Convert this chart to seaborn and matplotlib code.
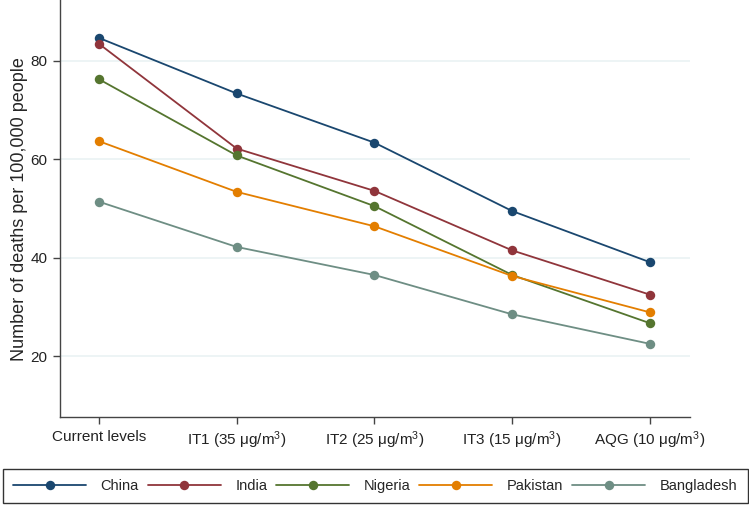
import numpy as np
import pandas as pd
import matplotlib
matplotlib.use("Agg")
import matplotlib.pyplot as plt
import seaborn as sns

# scenario labels on the x axis
scenarios = ["Current levels", "IT1 (35 μg/m$^3$)", "IT2 (25 μg/m$^3$)",
             "IT3 (15 μg/m$^3$)", "AQG (10 μg/m$^3$)"]
countries = ["China", "India", "Nigeria", "Pakistan", "Bangladesh"]

# deaths per 100,000 people
china = [84.7, 73.4, 63.4, 49.5, 39.1]
india = [83.5, 62.2, 53.6, 41.5, 32.5]
nigeria = [76.3, 60.8, 50.5, 36.5, 26.7]
pakistan = [63.7, 53.4, 46.4, 36.3, 28.9]
bangladesh = [51.4, 42.2, 36.5, 28.5, 22.5]

colors = ["#1a476f", "#90353b", "#55752f", "#e37e00", "#6e8e84"]

sns.set_style("white")
plt.rcParams["font.family"] = ["Liberation Sans", "DejaVu Sans"]
plt.rcParams["mathtext.fontset"] = "custom"
plt.rcParams["mathtext.rm"] = "Liberation Sans"
plt.rcParams["mathtext.it"] = "Liberation Sans"

rows = []
for name, vals in zip(countries, [china, india, nigeria, pakistan, bangladesh]):
    for i, v in enumerate(vals):
        rows.append({"country": name, "pos": i, "deaths": v})
df = pd.DataFrame(rows)

fig = plt.figure(figsize=(7.49, 5.05), dpi=100)
ax = fig.add_axes([0.080, 0.174, 0.841, 0.826])

sns.lineplot(data=df, x="pos", y="deaths", hue="country", hue_order=countries,
             palette=colors, marker="o", markersize=6.8, markeredgewidth=0,
             linewidth=1.3, ax=ax, legend=True)

ax.set_xlim(-0.283, 4.29)
ax.set_ylim(7.6, 92.4)
ax.set_xticks(range(len(scenarios)))
ax.set_xticklabels(scenarios, fontsize=11)
ax.set_yticks([20, 40, 60, 80])
ax.set_yticklabels(["20", "40", "60", "80"], fontsize=11)
ax.set_xlabel("")
ax.set_ylabel("Number of deaths per 100,000 people", fontsize=13, labelpad=2)
ax.grid(axis="y", color="#eaf2f3", linewidth=1.2)
ax.grid(axis="x", visible=False)
ax.set_axisbelow(True)
for s in ["top", "right"]:
    ax.spines[s].set_visible(False)
for s in ["left", "bottom"]:
    ax.spines[s].set_color("#444444")
    ax.spines[s].set_linewidth(1.0)
ax.tick_params(axis="both", direction="out", length=5, width=1.0,
               color="#444444", labelcolor="#222222", bottom=True, left=True, pad=4)

handles, labels = ax.get_legend_handles_labels()
ax.get_legend().remove()
leg = fig.legend(handles, labels, loc="lower left", ncol=5,
                 bbox_to_anchor=(0.004, 0.004, 0.994, 0.08), mode="expand",
                 frameon=True, fancybox=False, fontsize=10.5, handlelength=5.0,
                 handletextpad=1.0, borderaxespad=0.0, borderpad=0.7)
leg.get_frame().set_edgecolor("#000000")
leg.get_frame().set_linewidth(1.0)

fig.savefig("out.png", dpi=100)
